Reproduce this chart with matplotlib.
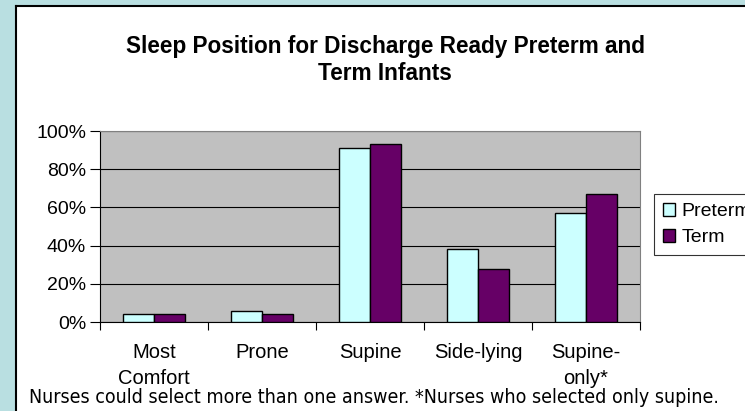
import matplotlib
matplotlib.use("Agg")
import matplotlib.pyplot as plt
import numpy as np
from matplotlib.patches import Rectangle
from matplotlib.ticker import FixedLocator

categories = ["Most\nComfort", "Prone", "Supine", "Side-lying", "Supine-\nonly*"]
preterm = [4, 6, 91, 38, 57]
term = [4, 4, 93, 28, 67]
yticks = [0, 20, 40, 60, 80, 100]

W, H = 745, 411
fig = plt.figure(figsize=(W / 100, H / 100), dpi=100)
fig.patch.set_facecolor("#b9dfe1")

# white panel with black top/left border
panel = Rectangle((16 / W, 0), 1, 1 - 6 / H, transform=fig.transFigure,
                  facecolor="white", edgecolor="none", zorder=-5)
fig.add_artist(panel)
fig.add_artist(plt.Line2D([16 / W, 16 / W], [0, 1 - 6 / H], color="black", lw=1.5,
                          transform=fig.transFigure, zorder=-4))
fig.add_artist(plt.Line2D([16 / W, 1], [1 - 6 / H, 1 - 6 / H], color="black", lw=1.5,
                          transform=fig.transFigure, zorder=-4))

left, right, top, bottom = 100, 640, 131, 322
ax = fig.add_axes([left / W, 1 - bottom / H, (right - left) / W, (bottom - top) / H])
ax.set_zorder(2)
ax.set_facecolor("#c0c0c0")

x = np.arange(len(categories))
bw = 0.29
ax.bar(x - bw / 2, preterm, bw, color="#ccffff", edgecolor="black", lw=1, label="Preterm", zorder=3)
ax.bar(x + bw / 2, term, bw, color="#660066", edgecolor="black", lw=1, label="Term", zorder=3)

ax.set_xlim(-0.5, len(categories) - 0.5)
ax.set_ylim(0, 100)
ax.set_yticks(yticks)
ax.set_yticklabels([f"{v}%" for v in yticks], fontsize=14, family="Liberation Sans")
ax.yaxis.grid(True, color="black", lw=0.8, zorder=1)
ax.set_axisbelow(True)
ax.tick_params(axis="y", length=7, width=0.8, pad=3)

ax.set_xticks(x)
ax.set_xticklabels(categories, fontsize=14.5, family="Liberation Sans", linespacing=1.45)
ax.tick_params(axis="x", length=0, pad=15)
ax.xaxis.set_minor_locator(FixedLocator(np.arange(-0.5, len(categories), 1.0)))
ax.tick_params(axis="x", which="minor", length=6, width=0.8)

for s in ("top", "right"):
    ax.spines[s].set_color("#808080")
for s in ("left", "bottom"):
    ax.spines[s].set_color("black")

leg = fig.legend(loc="upper left", bbox_to_anchor=(654 / W, 1 - 194 / H),
                 prop={"family": "Liberation Sans", "size": 14}, frameon=True,
                 fancybox=False, edgecolor="black", handlelength=0.65, handleheight=0.65,
                 handletextpad=0.3, labelspacing=0.45, borderpad=0.45, borderaxespad=0)
leg.get_frame().set_linewidth(0.8)

fig.text(385 / W, 1 - 47 / H, "Sleep Position for Discharge Ready Preterm and",
         ha="center", va="center", fontsize=16.3, fontweight="bold", family="Liberation Sans")
fig.text(385 / W, 1 - 73 / H, "Term Infants",
         ha="center", va="center", fontsize=16.3, fontweight="bold", family="Liberation Sans")

fig.text(29 / W, 1 - 397 / H,
         "Nurses could select more than one answer. *Nurses who selected only supine.",
         ha="left", va="center", fontsize=14.05, family="DejaVu Sans", fontstretch="condensed")

fig.savefig("out.png", dpi=100)
